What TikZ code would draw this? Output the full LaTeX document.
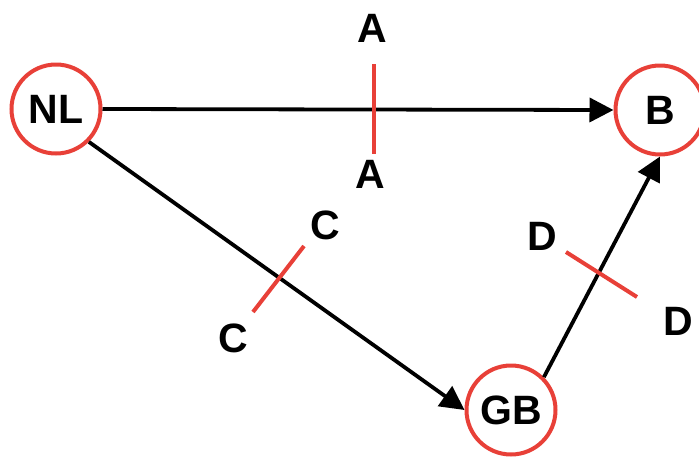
\documentclass[tikz,border=0pt]{standalone}
\usepackage{fontspec}
\setmainfont{Liberation Sans}
\usetikzlibrary{arrows.meta, positioning, calc}
\definecolor{ringred}{RGB}{232, 64, 56}

\begin{document}
\begin{tikzpicture}[
    x=1pt, y=-1pt,
    country/.style={circle, draw=ringred, line width=4pt,
                    minimum size=89pt, inner sep=0pt,
                    font=\bfseries\fontsize{41}{41}\selectfont},
    flow/.style={-{Triangle[length=24pt, width=24pt]},
                 line width=3.8pt},
    cut/.style={draw=ringred, line width=4pt},
    cutlab/.style={inner sep=0pt,
                   font=\bfseries\fontsize{41}{41}\selectfont},
]
\useasboundingbox (0,0) rectangle (699,456);

% -- Countries ------------------------------
\node[country] (nl) at (56, 109)  {NL};
\node[country] (b)  at (660, 110) {B};
\node[country] (gb) at (511, 410) {GB};

% -- Flows ----------------------------------
\draw[flow] (nl.east) -- (b.west);
\draw[flow] (nl.south east) -- (gb.west);
\draw[flow] (gb.north east) -- (b.south);

% -- Cuts -----------------------------------
\coordinate (a1) at (374, 64);
\coordinate (a2) at (374, 154);
\coordinate (c1) at (304, 246);
\coordinate (c2) at (253, 312);
\coordinate (d1) at (566, 252);
\coordinate (d2) at (637, 297);

\draw[cut] (a1) -- (a2);
\draw[cut] (c1) -- (c2);
\draw[cut] (d1) -- (d2);

% -- Cut labels -----------------------------
\node[cutlab] (la1) at (372, 28)  {A};
\node[cutlab] (la2) at (370, 174) {A};
\node[cutlab] (lc1) at (325, 225) {C};
\node[cutlab] (lc2) at (233, 338) {C};
\node[cutlab] (ld1) at (542, 236) {D};
\node[cutlab] (ld2) at (678, 321) {D};

\end{tikzpicture}
\end{document}
